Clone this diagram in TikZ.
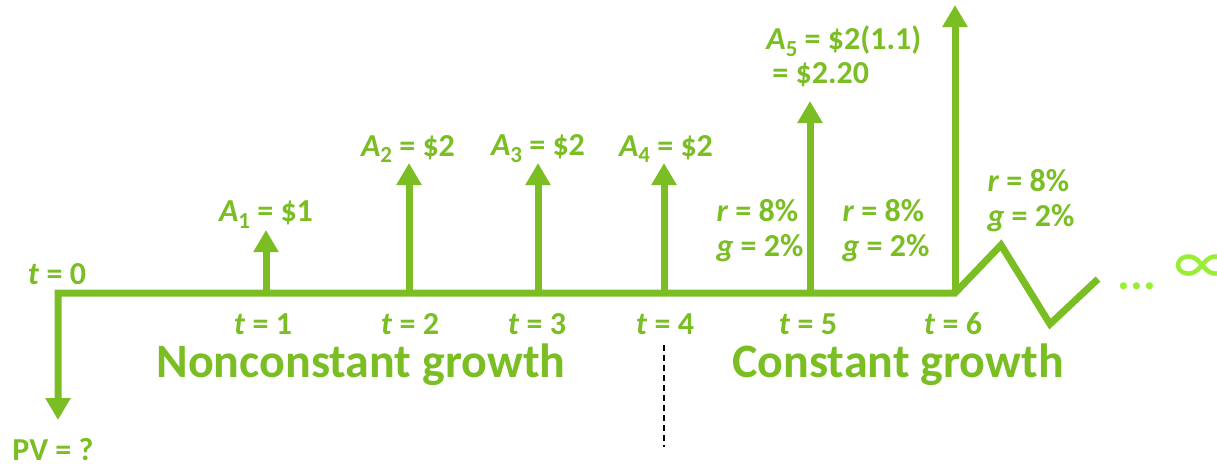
\documentclass[tikz,border=0pt]{standalone}
\usepackage{fontspec}
\setmainfont{Carlito}
\usetikzlibrary{arrows.meta}
\definecolor{cfgreen}{RGB}{122,190,36}
\definecolor{limegreen}{RGB}{155,238,55}
\newcommand{\subsc}[1]{\raisebox{-0.45ex}{\fontsize{11.5}{12}\selectfont #1}}
\begin{document}
\begin{tikzpicture}[x=0.5pt, y=-0.5pt, line join=miter,
    flow/.style={line width=3.5pt, draw=cfgreen, -{Triangle[width=12pt,length=11pt]}},
    lbl/.style={text=cfgreen, font=\fontsize{16}{17.5}\selectfont\bfseries, inner sep=0pt},
    big/.style={text=cfgreen, font=\fontsize{24}{30}\selectfont\bfseries, inner sep=0pt}]
    \useasboundingbox (0,0) rectangle (1217,463);
    % timeline points
    \coordinate (t0) at (58,293);
    \coordinate (t1) at (266,293);
    \coordinate (t2) at (409,293);
    \coordinate (t3) at (538,293);
    \coordinate (t4) at (664,293);
    \coordinate (t5) at (810,293);
    \coordinate (t6) at (955,293);
    \coordinate (pv) at (58,420);
    \coordinate (zpeak) at (1001,245);
    \coordinate (ztrough) at (1050,324);
    \coordinate (zend) at (1098,279);
    % line, zigzag and PV arrow in one stroke
    \draw[flow] (zend) -- (ztrough) -- (zpeak) -- (t6) -- (t0) -- (pv);
    % cash flows
    \coordinate (a1) at (266,230);
    \coordinate (a2) at (409,163);
    \coordinate (a3) at (538,163);
    \coordinate (a4) at (664,163);
    \coordinate (a5) at (810,101);
    \coordinate (a6) at (955,5);
    \foreach \i in {1,...,6} \draw[flow] (t\i) -- (a\i);
    % labels
    \node[lbl] (lt0) at (57,274) {\textit{t} = 0};
    \node[lbl] (lpv) at (53,450) {PV = ?};
    \foreach \i/\x in {1/263,2/410,3/537,4/665,5/808,6/953}
        \node[lbl] (lt\i) at (\x,324) {\textit{t} = \i};
    \node[lbl] (la1) at (266,215) {\textit{A}\subsc{1} = \$1};
    \node[lbl] (la2) at (408,149) {\textit{A}\subsc{2} = \$2};
    \node[lbl] (la3) at (538,149) {\textit{A}\subsc{3} = \$2};
    \node[lbl] (la4) at (666,149) {\textit{A}\subsc{4} = \$2};
    \node[lbl, anchor=west] (la5) at (766,41) {\textit{A}\subsc{5} = \$2(1.1)};
    \node[lbl, anchor=west] (la5b) at (772,75) {= \$2.20};
    \node[lbl, align=left] (rg5) at (760,231) {\textit{r} = 8\%\\\textit{g} = 2\%};
    \node[lbl, align=left] (rg6) at (886,231) {\textit{r} = 8\%\\\textit{g} = 2\%};
    \node[lbl, align=left] (rg7) at (1031,201) {\textit{r} = 8\%\\\textit{g} = 2\%};
    \node[big] (nonconst) at (361,365) {Nonconstant growth};
    \node[big] (const) at (898,365) {Constant growth};
    \node[text=limegreen, font=\fontsize{24}{30}\selectfont\bfseries, anchor=base west, inner sep=0pt] (dots) at (1117,289) {...};
    \node[text=limegreen, font=\fontsize{34}{36}\selectfont, anchor=west, inner sep=0pt] (inf) at (1173,270) {∞};
    % split between the two stages
    \coordinate (cutA) at (664,345);
    \coordinate (cutB) at (664,447);
    \draw[black, line width=0.75pt, dash pattern=on 3pt off 2pt] (cutA) -- (cutB);
\end{tikzpicture}
\end{document}
